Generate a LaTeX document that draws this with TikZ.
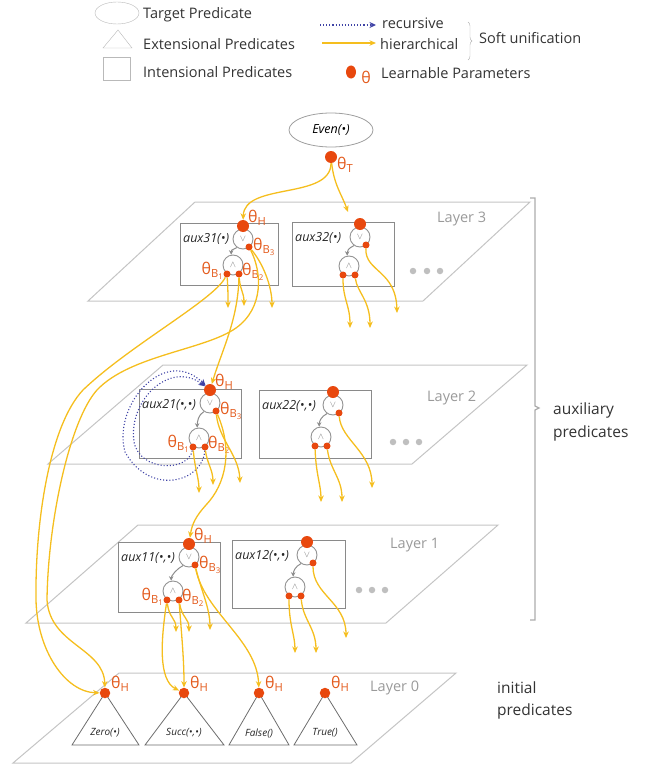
\documentclass[tikz,border=0pt]{standalone}
\usepackage{fontspec}
\setmainfont{Open Sans}
\usetikzlibrary{arrows.meta,calc,decorations.pathreplacing,shapes.geometric}
\definecolor{yel}{HTML}{F5BE1E}
\definecolor{dotred}{HTML}{E8480E}
\definecolor{threc}{HTML}{E35A1C}
\definecolor{bluedot}{HTML}{3F43A6}
\definecolor{laygray}{HTML}{C4C4C4}
\definecolor{boxgray}{HTML}{8A8A8A}
\definecolor{txtgray}{HTML}{9A9A9A}
\definecolor{txtdark}{HTML}{333333}
\newcommand\AuxUnit[7]{%
  \node[auxbox,minimum width=#3pt,minimum height=#4pt,anchor=north west] (#1) at (#2) {};
  \node[auxlab,anchor=west] (#1lab) at ($(#1.north west)+(3,16)$) {#7};
  \node[opc] (#1or) at (#5) {$\vee$};
  \node[opc] (#1and) at (#6) {$\wedge$};
  \node[bigdot] (#1H) at ($(#1or)+(0,-13)$) {};
  \node[smalldot] (#1B3) at ($(#1or)+(6,8)$) {};
  \node[smalldot] (#1B1) at ($(#1and)+(-6,9)$) {};
  \node[smalldot] (#1B2) at ($(#1and)+(6,9)$) {};
  \draw[garr] (#1or.235) .. controls +(-6,3) and +(0,-5) .. (#1and.100);
}
\newcommand\ThLabels[1]{%
  \node[thl,anchor=west] (#1tH) at ($(#1H)+(5,-8)$) {θ\textsubscript{H}};
  \node[thl,anchor=west] (#1tB3) at ($(#1B3)+(4,0)$) {θ\textsubscript{B\textsubscript{3}}};
  \node[thl,anchor=east] (#1tB1) at ($(#1B1)+(-3,-3)$) {θ\textsubscript{B\textsubscript{1}}};
  \node[thl,anchor=west] (#1tB2) at ($(#1B2)+(3,-2)$) {θ\textsubscript{B\textsubscript{2}}};
}
\begin{document}
\begin{tikzpicture}[x=1pt,y=-1pt,
 yarr/.style={draw=yel,line width=1.3pt,-{Stealth[length=6.5pt,width=5.5pt]}},
 barr/.style={draw=bluedot,line width=1.1pt,dotted,-{Stealth[length=6.5pt,width=6pt]}},
 garr/.style={draw=gray!90,line width=1pt,-{Stealth[length=4.5pt,width=4.5pt]}},
 bigdot/.style={circle,fill=dotred,inner sep=0pt,minimum size=12pt},
 smalldot/.style={circle,fill=dotred,inner sep=0pt,minimum size=7pt},
 zdot/.style={circle,fill=dotred,inner sep=0pt,minimum size=10.5pt},
 opc/.style={circle,draw=gray!85,line width=0.9pt,fill=white,inner sep=0pt,minimum size=20pt,font=\fontsize{9}{9}\selectfont,text=gray},
 auxbox/.style={draw=boxgray,line width=1pt,inner sep=0pt},
 auxlab/.style={font=\fontsize{12.5}{14}\selectfont\itshape,text=black!85,inner sep=0pt},
 thl/.style={text=threc,font=\fontsize{16}{16}\selectfont,inner sep=0pt},
 lay/.style={draw=laygray,line width=1pt},
 laylab/.style={text=txtgray,font=\fontsize{14.5}{16}\selectfont,anchor=west,inner sep=0pt},
 legtxt/.style={text=txtdark,font=\fontsize{14.5}{16}\selectfont,anchor=west,inner sep=0pt},
 sidetxt/.style={text=txtdark,font=\fontsize{15.5}{17}\selectfont,anchor=west,inner sep=0pt},
 tri/.style={draw=gray!85!black,line width=0.8pt},
 trilab/.style={font=\fontsize{10}{12}\selectfont\itshape,text=black!85,inner sep=0pt},
 gdot/.style={circle,fill=gray!50,inner sep=0pt,minimum size=6.5pt},
]
\useasboundingbox (0,0) rectangle (645,768);

% ---------- legend ----------
\node[ellipse,draw=gray!55,minimum width=44pt,minimum height=22pt,inner sep=0pt] (lgE) at (117,13) {};
\node[legtxt] (lgEt) at (143,15) {Target Predicate};
\draw[draw=gray!55] (103,48) -- (118,30) -- (132,48) -- cycle;
\node[legtxt] (lgTt) at (143,44) {Extensional Predicates};
\node[draw=gray!55,minimum width=27pt,minimum height=23pt,inner sep=0pt] (lgS) at (117,68.5) {};
\node[legtxt] (lgSt) at (143,72) {Intensional Predicates};
\coordinate (lgB1) at (320,25); \coordinate (lgB2) at (376,25);
\draw[barr] (lgB1) -- (lgB2);
\node[legtxt] (lgRt) at (382,23) {recursive};
\coordinate (lgY1) at (322,43); \coordinate (lgY2) at (376,43);
\draw[yarr] (lgY1) -- (lgY2);
\node[legtxt] (lgHt) at (380,44) {hierarchical};
\draw[gray!60,decorate,decoration={brace,amplitude=4pt}] (468,22) -- (468,60);
\node[legtxt] (lgSU) at (479,38) {Soft unification};
\node[ellipse,fill=dotred,minimum width=10pt,minimum height=13pt,inner sep=0pt] (lgD) at (351,72) {};
\node[thl] (lgTh) at (366,77) {θ};
\node[legtxt] (lgLP) at (381,73) {Learnable Parameters};

% ---------- layers ----------
\draw[lay] (88,301) -- (423,301) -- (530,202) -- (195,202) -- cycle;
\draw[lay] (48,464) -- (412,464) -- (527,365) -- (163,365) -- cycle;
\draw[lay] (26,623) -- (386,623) -- (498,525) -- (138,525) -- cycle;
\draw[lay] (13,763) -- (351,763) -- (456,673) -- (119,673) -- cycle;
\node[laylab] (L3) at (437,219) {Layer 3};
\node[laylab] (L2) at (427,398) {Layer 2};
\node[laylab] (L1) at (390,545) {Layer 1};
\node[laylab] (L0) at (370,688) {Layer 0};
\foreach \i/\x/\y in {a/413/271,b/427/271,c/440/271,d/393/442,e/406/442,f/419/442,g/359/590,h/372/590,k/385/590}
  \node[gdot] (gd\i) at (\x,\y) {};

% right bracket
\draw[gray!65,line width=1.3pt] (530,198) -- (535,198) -- (535,406) -- (539,408) -- (535,410) -- (535,620) -- (530,620);
\node[sidetxt] (auxT1) at (553,410) {auxiliary};
\node[sidetxt] (auxT2) at (553,433) {predicates};
\node[sidetxt] (iniT1) at (497,688) {initial};
\node[sidetxt] (iniT2) at (497,711) {predicates};

% ---------- target ----------
\node[ellipse,draw=gray!75,line width=0.8pt,minimum width=84pt,minimum height=34pt,inner sep=0pt,font=\fontsize{12.5}{14}\selectfont\itshape] (even) at (331,130) {Even(•)};
\node[bigdot] (evenT) at (331,157) {};
\node[thl,anchor=west] (evenTl) at (337,165) {θ\textsubscript{T}};

% ---------- aux units ----------
\AuxUnit{aux31}{180,223}{98}{62}{243,239}{233,265}{aux31(•)}
\AuxUnit{aux32}{292,222}{102}{64}{360,237}{349,266}{aux32(•)}
\AuxUnit{aux21}{139,389}{102}{69}{210,403}{199,438}{aux21(•,•)}
\AuxUnit{aux22}{259,390}{112}{68}{333,405}{321,437}{aux22(•,•)}
\AuxUnit{aux11}{118,542}{102}{70}{189,557}{173,591}{aux11(•,•)}
\AuxUnit{aux12}{232,540}{113}{68}{307,555}{295,587}{aux12(•,•)}
\ThLabels{aux31}
\ThLabels{aux21}
\ThLabels{aux11}

% ---------- layer 0 ----------
\draw[tri] (72,745) -- (105,693) -- (139,745) -- cycle;
\draw[tri] (145,745) -- (184,693) -- (224,745) -- cycle;
\draw[tri] (229,745) -- (259,693) -- (289,745) -- cycle;
\draw[tri] (294,745) -- (325,693) -- (357,745) -- cycle;
\node[zdot] (zeroH) at (105,693) {};
\node[zdot] (succH) at (184,693) {};
\node[zdot] (falseH) at (259,693) {};
\node[zdot] (trueH) at (325,693) {};
\foreach \n in {zero,succ,false,true}
  \node[thl,anchor=west] (\n Th) at ($(\n H)+(6,-9)$) {θ\textsubscript{H}};
\node[trilab] (zeroL) at (105,733) {Zero(•)};
\node[trilab] (succL) at (184,733) {Succ(•,•)};
\node[trilab] (falseL) at (259,733) {False()};
\node[trilab] (trueL) at (325,733) {True()};

% ---------- recursive loops ----------
\draw[barr] (aux21B2) .. controls (203,482) and (150,497) .. (125,452) .. controls (112,405) and (165,345) .. (aux21H);
\draw[barr] (aux21B1) .. controls (188,472) and (140,472) .. (134,442) .. controls (128,400) and (170,360) .. (aux21H);

% ---------- hierarchical connectors ----------
\draw[yarr] (evenT) .. controls (331,200) and (244,182) .. (aux31H);
\coordinate (e32) at (348,212);
\draw[yarr] (evenT) .. controls (334,185) and (342,195) .. (e32);

\coordinate (t31a) at (228,308); \coordinate (t31b) at (244,306); \coordinate (t31c) at (272,308);
\draw[yarr] (aux31B1) .. controls (228,290) and (228,295) .. (t31a);
\draw[yarr] (aux31B2) .. controls (240,290) and (244,292) .. (t31b);
\draw[yarr] (aux31B3) .. controls (262,262) and (272,285) .. (t31c);
\draw[yarr] (aux31B1) .. controls (214,300) and (130,345) .. (83,390) .. controls (50,425) and (35,520) .. (36,600) .. controls (37,650) and (65,692) .. (zeroH);
\draw[yarr] (aux31B3) .. controls (262,272) and (264,308) .. (236,328) .. controls (205,350) and (130,355) .. (97,390) .. controls (70,420) and (48,520) .. (47,600) .. controls (50,645) and (104,648) .. (zeroH);
\draw[yarr] (aux31B2) .. controls (238,320) and (222,350) .. (aux21H);

\coordinate (t32a) at (350,328); \coordinate (t32b) at (370,328); \coordinate (t32c) at (397,313);
\draw[yarr] (aux32B1) .. controls (343,300) and (350,305) .. (t32a);
\draw[yarr] (aux32B2) .. controls (357,292) and (370,300) .. (t32b);
\draw[yarr] (aux32B3) .. controls (365,272) and (396,270) .. (t32c);

\coordinate (t21a) at (199,493); \coordinate (t21b) at (213,485); \coordinate (t21c) at (240,483);
\draw[yarr] (aux21B1) .. controls (195,470) and (199,478) .. (t21a);
\draw[yarr] (aux21B2) .. controls (207,463) and (213,470) .. (t21b);
\draw[yarr] (aux21B3) .. controls (219,440) and (239,455) .. (t21c);
\draw[yarr] (aux21B3) .. controls (233,450) and (226,484) .. (206,505) .. controls (196,516) and (192,524) .. (aux11H);

\coordinate (t22a) at (321,502); \coordinate (t22b) at (342,502); \coordinate (t22c) at (372,488);
\draw[yarr] (aux22B1) .. controls (316,475) and (321,485) .. (t22a);
\draw[yarr] (aux22B2) .. controls (330,470) and (342,478) .. (t22b);
\draw[yarr] (aux22B3) .. controls (341,440) and (372,452) .. (t22c);

\coordinate (t11a) at (176,632); \coordinate (t11b) at (189,632); \coordinate (t11c) at (210,630);
\draw[yarr] (aux11B1) .. controls (169,618) and (176,618) .. (t11a);
\draw[yarr] (aux11B2) .. controls (182,618) and (189,618) .. (t11b);
\draw[yarr] (aux11B3) .. controls (201,590) and (210,608) .. (t11c);
\draw[yarr] (aux11B1) .. controls (161,640) and (158,680) .. (succH);
\draw[yarr] (aux11B2) .. controls (182,640) and (184,660) .. (succH);
\draw[yarr] (aux11B3) .. controls (204,612) and (257,640) .. (falseH);

\coordinate (t12a) at (295,653); \coordinate (t12b) at (316,653); \coordinate (t12c) at (346,638);
\draw[yarr] (aux12B1) .. controls (289,625) and (295,635) .. (t12a);
\draw[yarr] (aux12B2) .. controls (303,620) and (316,628) .. (t12b);
\draw[yarr] (aux12B3) .. controls (313,595) and (346,602) .. (t12c);
\end{tikzpicture}
\end{document}
